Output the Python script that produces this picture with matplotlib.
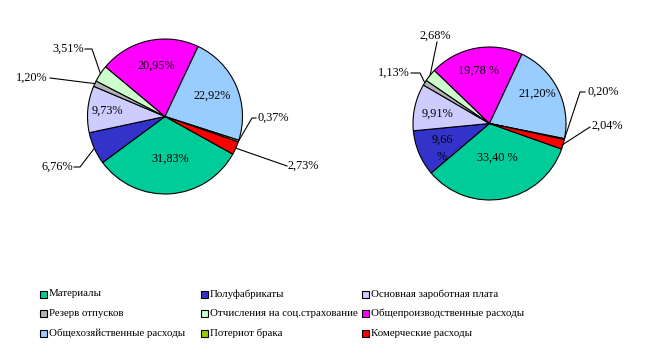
import numpy as np
import matplotlib
matplotlib.use("Agg")
import matplotlib.pyplot as plt
from matplotlib.patches import Rectangle

plt.rcParams['font.family'] = ['Liberation Serif', 'DejaVu Serif']

W, H = 659, 351

categories = ['Материалы', 'Полуфабрикаты', 'Основная зароботная плата',
              'Резерв отпусков', 'Отчисления на соц.страхование', 'Общепроизводственные расходы',
              'Общехозяйственные расходы', 'Потериот брака', 'Комерческие расходы']
colors = ['#00CC99', '#3333CC', '#CCCCFF', '#B2B2B2', '#CCFFCC',
          '#FF00FF', '#99CCFF', '#99CC00', '#FF0000']

values_left = [31.83, 6.76, 9.73, 1.20, 3.51, 20.95, 22.92, 0.37, 2.73]
labels_left = ['31,83%', '6,76%', '9,73%', '1,20%', '3,51%', '20,95%', '22,92%', '0,37%', '2,73%']

values_right = [33.40, 9.66, 9.91, 1.13, 2.68, 19.78, 21.20, 0.20, 2.04]
labels_right = ['33,40 %', '9,66\n%', '9,91%', '1,13%', '2,68%', '19,78 %', '21,20%', '0,20%', '2,04%']

# layout, in pixels from the top-left corner
pies = [
    dict(values=values_left, labels=labels_left, center=(165, 116.5), r=77.5, start=-29,
         inside={0: (170, 159), 2: (107, 111), 5: (156, 66), 6: (212, 96)},
         outside={1: ((73, 167), 'right', [(74, 167), (80, 167)]),
                  3: ((48, 78), 'right', [(50, 78)]),
                  4: ((84, 49), 'right', [(85, 49), (92, 49)]),
                  7: ((258, 118), 'left', [(256, 118), (252, 118)]),
                  8: ((288, 166), 'left', [(287, 166)])}),
    dict(values=values_right, labels=labels_right, center=(489.5, 123.5), r=76.5, start=-19.5,
         inside={0: (497, 158), 1: (442, 148), 2: (437, 114), 5: (478, 71), 6: (537, 94)},
         outside={3: ((410, 73), 'right', [(411, 73), (420, 73)]),
                  4: ((435, 36), 'center', [(437, 42)]),
                  7: ((587, 92), 'left', [(585, 92), (580, 92)]),
                  8: ((592, 126), 'left', [(590, 127)])}),
]

fig = plt.figure(figsize=(W / 100, H / 100), dpi=100)
ax = fig.add_axes([0, 0, 1, 1])

for p in pies:
    cx, cy = p['center']
    wedges, _ = ax.pie(p['values'], colors=colors, startangle=p['start'], counterclock=False,
                       center=(cx, H - cy), radius=p['r'],
                       wedgeprops=dict(edgecolor='black', linewidth=0.8))
    for i, (x, y) in p['inside'].items():
        ax.text(x, H - y, p['labels'][i], ha='center', va='center', fontsize=8.8,
                linespacing=1.6)
    for i, ((x, y), ha, pts) in p['outside'].items():
        w = wedges[i]
        mid = np.deg2rad((w.theta1 + w.theta2) / 2)
        ex = cx + p['r'] * np.cos(mid)
        ey = H - cy + p['r'] * np.sin(mid)
        xs = [q[0] for q in pts] + [ex]
        ys = [H - q[1] for q in pts] + [ey]
        ax.plot(xs, ys, color='black', linewidth=0.8)
        ax.text(x, H - y, p['labels'][i], ha=ha, va='center', fontsize=8.8)

# legend, 3 columns x 3 rows
col_x = [40, 201, 362]
row_y = [294, 313, 333]
for k, name in enumerate(categories):
    x = col_x[k % 3]
    y = row_y[k // 3]
    ax.add_patch(Rectangle((x, H - y - 3.5), 7, 7, facecolor=colors[k],
                           edgecolor='black', linewidth=0.8))
    ax.text(x + 9, H - y, name, ha='left', va='center', fontsize=7.8)

ax.set_xlim(0, W)
ax.set_ylim(0, H)
ax.set_aspect('equal')
ax.axis('off')

fig.savefig('out.png', dpi=100)
